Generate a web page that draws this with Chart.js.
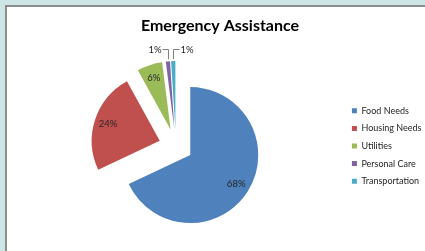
<!DOCTYPE html>
<html>
<head>
<meta charset="utf-8">
<script src="https://cdn.jsdelivr.net/npm/chart.js@4"></script>
<style>
  html, body { margin: 0; padding: 0; }
  body { width: 425px; height: 251px; overflow: hidden; background: #cde5e5; position: relative; }
  #frame {
    position: absolute; left: 5px; top: 5px; width: 440px; height: 260px;
    background: #fff; border-left: 2px solid #8c8c8c; border-top: 2px solid #8c8c8c;
  }
  #chart { position: absolute; left: 0; top: 0; }
</style>
</head>
<body>
<div id="frame"><canvas id="chart" width="440" height="244"></canvas></div>
<script>
const categories = ['Food Needs', 'Housing Needs', 'Utilities', 'Personal Care', 'Transportation'];
const shares = [68, 24, 6, 1, 1];
const colours = ['#4f81bd', '#c0504d', '#9bbb59', '#8064a2', '#4bacc6'];

const EXPLODE = 17; // every slice pulled out from the centre by this, px
const total = shares.reduce((a, b) => a + b, 0);

// Chart.js' own offset also grows the radius, so shift the arcs ourselves
const explode = {
  id: 'explode',
  beforeDatasetDraw(chart, args) {
    const ctx = chart.ctx;
    args.meta.data.forEach(arc => {
      const mid = (arc.startAngle + arc.endAngle) / 2;
      ctx.save();
      ctx.translate(Math.cos(mid) * EXPLODE, Math.sin(mid) * EXPLODE);
      arc.draw(ctx);
      ctx.restore();
    });
    return false;
  }
};

// percentage labels: inside for big slices, with a leader line for the slivers
const sliceLabels = {
  id: 'sliceLabels',
  afterDatasetsDraw(chart) {
    const ctx = chart.ctx;
    const meta = chart.getDatasetMeta(0);
    let side = -1;
    ctx.save();
    ctx.font = '9.5px Lato';
    ctx.fillStyle = '#262626';
    ctx.strokeStyle = '#7f7f7f';
    ctx.lineWidth = 1;
    meta.data.forEach((arc, i) => {
      const p = arc.getProps(['x', 'y', 'startAngle', 'endAngle', 'outerRadius'], true);
      const mid = (p.startAngle + p.endAngle) / 2;
      const cx = p.x + Math.cos(mid) * EXPLODE;
      const cy = p.y + Math.sin(mid) * EXPLODE;
      const frac = shares[i] / total;
      const txt = Math.round(frac * 100) + '%';
      if (frac >= 0.03) {
        ctx.textAlign = 'center';
        ctx.textBaseline = 'middle';
        ctx.fillText(txt, cx + Math.cos(mid) * p.outerRadius * 0.8, cy + Math.sin(mid) * p.outerRadius * 0.8);
      } else {
        const ex = Math.round(cx + Math.cos(mid) * (p.outerRadius + 2)) + 0.5;
        const ey = cy + Math.sin(mid) * (p.outerRadius + 2);
        const ty = Math.round(ey - 10) + 0.5;
        const tx = ex + side * 6;
        ctx.beginPath();
        ctx.moveTo(ex, ey);
        ctx.lineTo(ex, ty);
        ctx.lineTo(tx, ty);
        ctx.stroke();
        ctx.textAlign = side < 0 ? 'right' : 'left';
        ctx.textBaseline = 'middle';
        ctx.fillText(txt, tx + side, ty);
        side = -side;
      }
    });
    ctx.restore();
  }
};

function draw() {
  new Chart(document.getElementById('chart'), {
    type: 'pie',
    data: {
      labels: categories,
      datasets: [{
        data: shares,
        backgroundColor: colours,
        borderWidth: 0
      }]
    },
    options: {
      responsive: false,
      animation: false,
      radius: 68,
      layout: { padding: { left: 1.5, right: 15.5, top: 0, bottom: 0 } },
      plugins: {
        title: {
          display: true,
          text: 'Emergency Assistance',
          color: '#000',
          font: { family: 'Lato', size: 16, weight: 'bold' },
          padding: { top: 9.4, bottom: 5.4 }
        },
        legend: {
          position: 'right',
          fullSize: false,
          labels: {
            boxWidth: 5,
            boxHeight: 5,
            padding: 8.6,
            color: '#262626',
            font: { family: 'Lato', size: 9 }
          }
        },
        tooltip: { enabled: false }
      }
    },
    plugins: [explode, sliceLabels]
  });
}

Promise.all([
  document.fonts.load('bold 16px Lato'),
  document.fonts.load('9px Lato')
]).then(draw, draw);
</script>
</body>
</html>
